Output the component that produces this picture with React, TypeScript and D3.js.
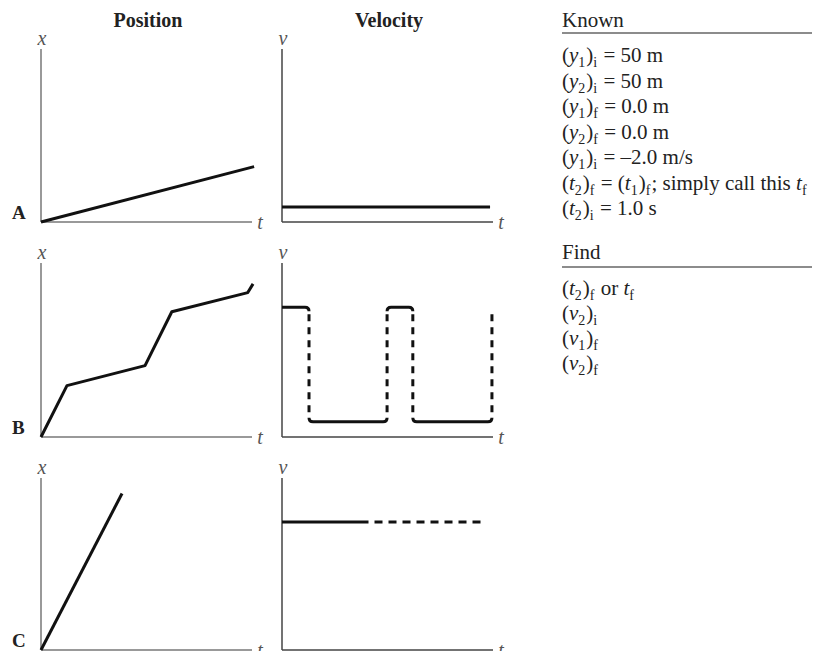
import * as d3 from "d3";

const FONT = '"Liberation Serif", "Times New Roman", serif';

const columnTitles = ["Position", "Velocity"];
const rowLetters = ["A", "B", "C"];

// position graphs, [t, x] with both axes spanning 0..10
const positionA: [number, number][] = [[0, 0], [10.1, 3.2]];
const positionB: [number, number][] = [
  [0, 0], [1.23, 2.95], [4.93, 4.1], [6.2, 7.2], [9.8, 8.3], [10.05, 8.8],
];
const positionC: [number, number][] = [[0, 0], [3.84, 9.1]];

// velocity graphs: solid runs [t0, t1, v], dashed runs, dashed jumps [t, vFrom, vTo]
const velocityA: [number, number, number][] = [[0, 9.86, 0.87]];
const velocityB: [number, number, number][] = [
  [0, 1.28, 7.45], [1.28, 4.98, 0.87], [4.98, 6.2, 7.45], [6.2, 9.95, 0.87],
];
const velocityBJumps: [number, number, number][] = [
  [1.28, 7.45, 0.87], [4.98, 0.87, 7.45], [6.2, 7.45, 0.87], [9.95, 0.87, 7.45],
];
const velocityC: [number, number, number][] = [[0, 4.1, 7.44]];
const velocityCDashed: [number, number, number][] = [[4.1, 9.5, 7.44]];

// *..* italic, _c subscript
const knownLines = [
  "(*y*_1)_i = 50 m",
  "(*y*_2)_i = 50 m",
  "(*y*_1)_f = 0.0 m",
  "(*y*_2)_f = 0.0 m",
  "(*y*_1)_i = \u20132.0 m/s",
  "(*t*_2)_f = (*t*_1)_f; simply call this *t*_f",
  "(*t*_2)_i = 1.0 s",
];
const findLines = ["(*t*_2)_f or *t*_f", "(*v*_2)_i", "(*v*_1)_f", "(*v*_2)_f"];

const rowTop = [49, 263, 478];
const rowBottom = [222, 437, 650];
const colLeft = [41, 282];
const plotWidth = 211;

type Seg = { text: string; italic: boolean; sub: boolean };

function parse(s: string): Seg[] {
  const segs: Seg[] = [];
  let italic = false;
  let buf = "";
  const flush = () => {
    if (buf) segs.push({ text: buf, italic, sub: false });
    buf = "";
  };
  for (let i = 0; i < s.length; i++) {
    const ch = s[i];
    if (ch === "*") {
      flush();
      italic = !italic;
    } else if (ch === "_") {
      flush();
      segs.push({ text: s[i + 1], italic: false, sub: true });
      i++;
    } else buf += ch;
  }
  flush();
  return segs;
}

function RichText({ x, y, s }: { x: number; y: number; s: string }) {
  let shifted = false;
  return (
    <text x={x} y={y} fontFamily={FONT} fontSize={21} fill="#222">
      {parse(s).map((seg, i) => {
        let dy = 0;
        let dx = 0;
        if (seg.sub && !shifted) { dy = 5; shifted = true; }
        if (!seg.sub && shifted) { dy = -5; dx = 1; shifted = false; }
        return (
          <tspan key={i} dx={dx} dy={dy} fontStyle={seg.italic ? "italic" : "normal"} fontSize={seg.sub ? 14 : 21}>
            {seg.text}
          </tspan>
        );
      })}
    </text>
  );
}

function scales(row: number, col: number) {
  const x = d3.scaleLinear().domain([0, 10]).range([colLeft[col], colLeft[col] + plotWidth]);
  const y = d3.scaleLinear().domain([0, 10]).range([rowBottom[row], rowTop[row]]);
  return { x, y };
}

function Axes({ row, col }: { row: number; col: number }) {
  const { x, y } = scales(row, col);
  const stroke = col === 0 ? "#777" : "#444";
  return (
    <g>
      <line x1={x(0)} x2={x(0)} y1={y(0)} y2={y(10)} stroke={stroke} strokeWidth={1.5} />
      <line x1={x(0)} x2={x(10)} y1={y(0)} y2={y(0)} stroke={stroke} strokeWidth={1.5} />
      <text x={x(0) + 1} y={y(10) - 4} textAnchor="middle" fontFamily={FONT} fontStyle="italic" fontSize={20} fill="#555">
        {col === 0 ? "x" : "v"}
      </text>
      <text x={x(10) + 8} y={y(0) + 7} textAnchor="middle" fontFamily={FONT} fontStyle="italic" fontSize={20} fill="#555">
        t
      </text>
    </g>
  );
}

function PositionPanel({ row, data }: { row: number; data: [number, number][] }) {
  const { x, y } = scales(row, 0);
  const line = d3.line<[number, number]>().x(d => x(d[0])).y(d => y(d[1]));
  return (
    <g>
      <Axes row={row} col={0} />
      <path d={line(data) ?? ""} fill="none" stroke="#111" strokeWidth={3} strokeLinejoin="round" />
      <text x={12} y={rowBottom[row] - 3} fontFamily={FONT} fontWeight="bold" fontSize={19} fill="#222">
        {rowLetters[row]}
      </text>
    </g>
  );
}

function VelocityPanel({
  row, solid, dashed = [], jumps = [],
}: {
  row: number;
  solid: [number, number, number][];
  dashed?: [number, number, number][];
  jumps?: [number, number, number][];
}) {
  const { x, y } = scales(row, 1);
  const r = 4;
  const runPath = ([t0, t1, v]: [number, number, number]) => {
    const p = d3.path();
    const yy = y(v);
    const j0 = jumps.find(j => j[0] === t0);
    const j1 = jumps.find(j => j[0] === t1);
    if (j0) {
      const dir = Math.sign(y(j0[1]) - yy);
      p.moveTo(x(t0), yy + dir * r);
      p.quadraticCurveTo(x(t0), yy, x(t0) + r, yy);
    } else p.moveTo(x(t0), yy);
    if (j1) {
      const dir = Math.sign(y(j1[2]) - yy);
      p.lineTo(x(t1) - r, yy);
      p.quadraticCurveTo(x(t1), yy, x(t1), yy + dir * r);
    } else p.lineTo(x(t1), yy);
    return p.toString();
  };
  return (
    <g>
      <Axes row={row} col={1} />
      {solid.map((d, i) => (
        <path key={"s" + i} d={runPath(d)} fill="none" stroke="#111" strokeWidth={3} />
      ))}
      {dashed.map(([t0, t1, v], i) => (
        <line key={"d" + i} x1={x(t0) + 6} x2={x(t1)} y1={y(v)} y2={y(v)} stroke="#111" strokeWidth={3} strokeDasharray="8 6" />
      ))}
      {jumps.map(([t, a, b], i) => {
        const top = Math.max(a, b);
        const bot = Math.min(a, b);
        return (
          <line key={"j" + i} x1={x(t)} x2={x(t)} y1={y(top) + r + 3} y2={y(bot) - r - 2} stroke="#111" strokeWidth={3} strokeDasharray="7 6" />
        );
      })}
    </g>
  );
}

export default function App() {
  const knownX = 562;
  return (
    <svg width={814} height={651} style={{ position: "absolute", left: 0, top: 0, background: "#fff" }}>
      {columnTitles.map((t, i) => (
        <text key={t} x={colLeft[i] + 107} y={27} textAnchor="middle" fontFamily={FONT} fontWeight="bold" fontSize={20} fill="#222">
          {t}
        </text>
      ))}
      <PositionPanel row={0} data={positionA} />
      <PositionPanel row={1} data={positionB} />
      <PositionPanel row={2} data={positionC} />
      <VelocityPanel row={0} solid={velocityA} />
      <VelocityPanel row={1} solid={velocityB} jumps={velocityBJumps} />
      <VelocityPanel row={2} solid={velocityC} dashed={velocityCDashed} />

      <text x={knownX} y={27} fontFamily={FONT} fontSize={21} fill="#222">Known</text>
      <line x1={knownX} x2={812} y1={33} y2={33} stroke="#666" strokeWidth={1.5} />
      {knownLines.map((s, i) => (
        <RichText key={s} x={knownX} y={62 + i * 25.5} s={s} />
      ))}
      <text x={knownX} y={259} fontFamily={FONT} fontSize={21} fill="#222">Find</text>
      <line x1={knownX} x2={812} y1={267} y2={267} stroke="#666" strokeWidth={1.5} />
      {findLines.map((s, i) => (
        <RichText key={s} x={knownX} y={295 + i * 25} s={s} />
      ))}
    </svg>
  );
}
